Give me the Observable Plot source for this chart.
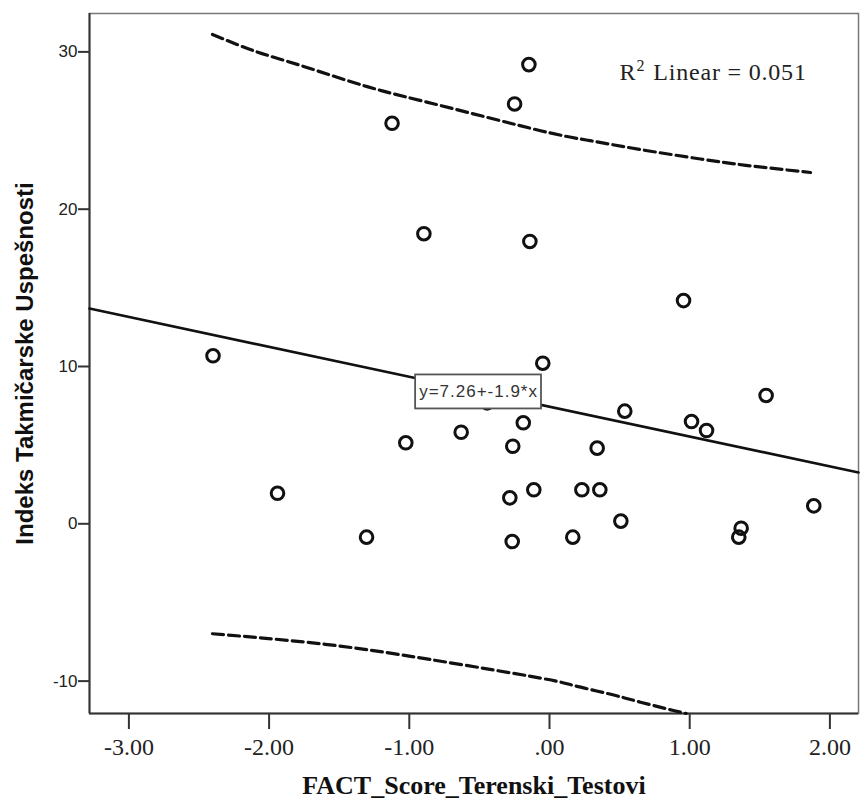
<!DOCTYPE html>
<html><head><meta charset="utf-8">
<script src="https://cdn.jsdelivr.net/npm/d3@7"></script>
<script src="https://cdn.jsdelivr.net/npm/@observablehq/plot@0.6"></script>
<style>body{margin:0;background:#fff} svg{display:block}</style>
</head><body><div id="chart"></div>
<script>
// Scatter points
const xValues = [-2.40,-1.94,-1.305,-1.123,-1.025,-0.896,-0.63,-0.445,-0.249,-0.147,-0.14,-0.262,-0.283,-0.266,-0.187,-0.112,-0.048,0.166,0.231,0.34,0.359,0.509,0.537,0.956,1.013,1.12,1.35,1.367,1.545,1.885];
const yValues = [10.49,1.75,-1.04,25.27,4.96,18.25,5.63,7.5,26.5,29.0,17.76,4.74,1.46,-1.32,6.23,1.97,10.02,-1.04,1.97,4.62,1.97,-0.02,6.97,14.0,6.31,5.74,-1.04,-0.47,7.97,0.95];
// Fit line endpoints (read at frame edges)
const fitX = [-3.281, 2.204];
const fitY = [13.49, 3.07];
// Prediction interval curves (read)
const upperX = [-2.404,-2.1,-1.776,-1.3,-0.777,-0.064,0.3,0.649,1.077,1.4,1.862];
const upperY = [30.92,29.85,28.95,27.6,26.4,24.8,24.15,23.6,23.0,22.6,22.14];
const lowerX = [-2.404,-1.6,-0.849,-0.064,0.171,0.414,0.649,0.884,0.975];
const lowerY = [-7.18,-7.85,-8.82,-10.0,-10.47,-10.98,-11.53,-12.06,-12.25];
// Axes
const xDomain = [-3.281, 2.204];
const yDomain = [-12.25, 32.25];
const xTicks = [-3,-2,-1,0,1,2];
const xTickLabels = ["-3.00","-2.00","-1.00",".00","1.00","2.00"];
const yTicks = [-10,0,10,20,30];
const yTickLabels = ["-10","0","10","20","30"];
// Texts
const equationText = "y=7.26+-1.9*x";
const equationX = [-0.506];
const equationY = [8.22];
const r2Base = "R";
const r2Sup = "2";
const r2Rest = " Linear = 0.051";
const xTitle = "FACT_Score_Terenski_Testovi";
const yTitle = "Indeks Takmičarske Uspešnosti";

const pts = xValues.map((x,i)=>({x, y:yValues[i]}));
const fit = fitX.map((x,i)=>({x, y:fitY[i]}));
const upper = upperX.map((x,i)=>({x, y:upperY[i]}));
const lower = lowerX.map((x,i)=>({x, y:lowerY[i]}));
const eq = equationX.map((x,i)=>({x, y:equationY[i], text:equationText}));
const r2Full = r2Base + r2Sup + r2Rest;

const chart = Plot.plot({
  width: 861, height: 801,
  marginLeft: 89, marginRight: 3, marginTop: 13, marginBottom: 88,
  x: {domain: xDomain},
  y: {domain: yDomain},
  style: {background: "#fff", overflow: "visible"},
  marks: [
    Plot.frame({stroke: "#777", strokeWidth: 1.5}),
    Plot.ruleX([xDomain[0]], {stroke: "#333", strokeWidth: 2}),
    Plot.ruleY([yDomain[0]], {stroke: "#333", strokeWidth: 2}),
    Plot.line(upper, {x:"x", y:"y", stroke:"#111", strokeWidth:3.2, strokeDasharray:"11,5", curve:"natural"}),
    Plot.line(lower, {x:"x", y:"y", stroke:"#111", strokeWidth:3.2, strokeDasharray:"11,5", curve:"natural"}),
    Plot.line(fit, {x:"x", y:"y", stroke:"#111", strokeWidth:2.6}),
    Plot.dot(pts, {x:"x", y:"y", r:6.3, stroke:"#111", strokeWidth:3, fill:"none"}),
    Plot.text(eq, {x:"x", y:"y", text:"text", fontSize:17, fontFamily:"Liberation Sans", fill:"#333", textAnchor:"middle"}),
    Plot.text([r2Full], {text:d=>d, frameAnchor:"top-left", dx:530, dy:66, lineAnchor:"bottom", textAnchor:"start", fontFamily:"Liberation Serif", fontSize:24, fill:"#222"}),
    Plot.axisX({ticks: xTicks, tickFormat: d => xTickLabels[xTicks.indexOf(d)], tickSize:16, tickPadding:8, fontSize:24, fontFamily:"Liberation Serif", fill:"#222", stroke:"#333", strokeWidth:2, label:null}),
    Plot.axisY({ticks: yTicks, tickFormat: d => yTickLabels[yTicks.indexOf(d)], tickSize:11, tickPadding:1, dy:3, fontSize:17, fontFamily:"Liberation Sans", fill:"#222", stroke:"#333", strokeWidth:2, label:null}),
    Plot.text([xTitle], {text:d=>d, frameAnchor:"bottom", dy:80, lineAnchor:"bottom", textAnchor:"middle", fontSize:26, fontWeight:"bold", fontFamily:"Liberation Serif", fill:"#111"}),
    Plot.text([yTitle], {text:d=>d, frameAnchor:"left", rotate:-90, dx:-57, lineAnchor:"bottom", textAnchor:"middle", fontSize:24, fontWeight:"bold", fontFamily:"Liberation Sans", fill:"#111"})
  ]
});
document.getElementById("chart").appendChild(chart);

const NS = "http://www.w3.org/2000/svg";
const texts = Array.from(chart.querySelectorAll("text"));

// Box around the equation label
const t = texts.find(el => el.textContent === equationText);
if (t) {
  t.style.letterSpacing = "1px";
  const bb = t.getBBox();
  const rect = document.createElementNS(NS, "rect");
  const cy = bb.y + bb.height/2;
  rect.setAttribute("x", bb.x - 4);
  rect.setAttribute("width", bb.width + 7);
  rect.setAttribute("y", cy - 17);
  rect.setAttribute("height", 34);
  rect.setAttribute("fill", "#fff");
  rect.setAttribute("stroke", "#555");
  rect.setAttribute("stroke-width", "1.8");
  const tr = t.getAttribute("transform");
  if (tr) rect.setAttribute("transform", tr);
  t.parentNode.insertBefore(rect, t);
}

// Superscript for R²
const r = texts.find(el => el.textContent === r2Full);
if (r) {
  r.textContent = r2Base;
  const sup = document.createElementNS(NS, "tspan");
  sup.setAttribute("font-size", "16");
  sup.setAttribute("dy", "-9");
  sup.setAttribute("dx", "1");
  sup.textContent = r2Sup;
  const rest = document.createElementNS(NS, "tspan");
  rest.setAttribute("dy", "9");
  rest.setAttribute("dx", "2");
  rest.style.letterSpacing = "0.8px";
  rest.textContent = r2Rest;
  r.appendChild(sup);
  r.appendChild(rest);
}
</script>
</body></html>
